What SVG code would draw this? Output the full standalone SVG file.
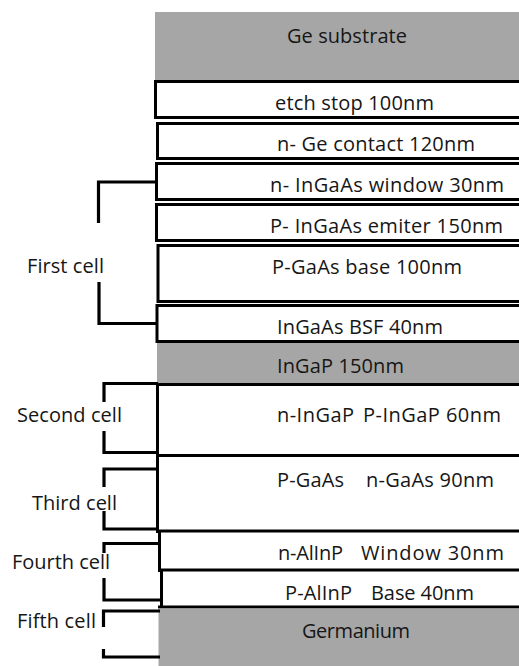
<svg xmlns="http://www.w3.org/2000/svg" width="519" height="666" viewBox="0 0 519 666">
<style>
  .t { font-family: "Open Sans", "DejaVu Sans", sans-serif; font-size: 20px; fill: #161616; }
  .gray { fill: #a6a6a6; }
  .box { fill: #ffffff; stroke: #000000; stroke-width: 3; }
  .ln { stroke: #000000; fill: none; stroke-width: 3; }
  .br { stroke: #000000; fill: none; stroke-width: 3.2; stroke-linecap: butt; }
</style>
<rect width="519" height="666" fill="#ffffff"/>

<g id="ge-substrate">
  <rect class="gray" x="155" y="12" width="370" height="68"/>
  <text class="t" x="287" y="42.5" textLength="120">Ge substrate</text>
</g>
<g id="etch-stop">
  <rect class="box" x="155.5" y="81.5" width="370" height="36"/>
  <text class="t" x="275" y="110" textLength="159">etch stop 100nm</text>
</g>
<g id="n-ge-contact">
  <rect class="box" x="157.5" y="123.5" width="370" height="35"/>
  <text class="t" x="277" y="151" textLength="198">n- Ge contact 120nm</text>
</g>
<g id="n-ingaas-window">
  <rect class="box" x="156.5" y="163.5" width="370" height="36"/>
  <text class="t" x="270" y="191.5" textLength="234">n- InGaAs window 30nm</text>
</g>
<g id="p-ingaas-emiter">
  <rect class="box" x="156.5" y="204.5" width="370" height="36"/>
  <text class="t" x="270" y="232.5" textLength="233">P- InGaAs emiter 150nm</text>
</g>
<g id="p-gaas-base">
  <rect class="box" x="158" y="245.5" width="370" height="56"/>
  <text class="t" x="272" y="273.5" textLength="190">P-GaAs base 100nm</text>
</g>
<g id="ingaas-bsf">
  <rect class="box" x="157" y="305.5" width="370" height="36"/>
  <text class="t" x="277" y="334" textLength="166">InGaAs BSF 40nm</text>
</g>
<g id="ingap">
  <rect class="gray" x="157" y="343" width="370" height="41"/>
  <text class="t" x="277" y="373" textLength="127">InGaP 150nm</text>
</g>
<g id="second-cell-layer">
  <line class="ln" x1="156" y1="384.5" x2="525" y2="384.5"/>
  <line class="ln" x1="157.5" y1="383" x2="157.5" y2="533" stroke-width="3.5"/>
  <line class="ln" x1="156" y1="455.5" x2="525" y2="455.5" stroke-width="5"/>
  <text class="t" x="277" y="421.5"><tspan textLength="77">n-InGaP</tspan><tspan x="363" textLength="138">P-InGaP 60nm</tspan></text>
</g>
<g id="third-cell-layer">
  <line class="ln" x1="156" y1="531" x2="525" y2="531" stroke-width="5"/>
  <text class="t" x="277" y="487"><tspan textLength="67">P-GaAs</tspan><tspan x="366" textLength="128">n-GaAs 90nm</tspan></text>
</g>
<g id="n-alinp-window">
  <line class="ln" x1="159.5" y1="531" x2="159.5" y2="572"/>
  <line class="ln" x1="158" y1="570" x2="525" y2="570" stroke-width="5"/>
  <text class="t" x="278" y="560"><tspan textLength="65">n-AlInP</tspan><tspan x="361" textLength="143">Window 30nm</tspan></text>
</g>
<g id="p-alinp-base">
  <line class="ln" x1="161.5" y1="570" x2="161.5" y2="608"/>
  <line class="ln" x1="158" y1="607" x2="525" y2="607"/>
  <text class="t" x="285" y="600"><tspan textLength="67">P-AlInP</tspan><tspan x="371" textLength="103">Base 40nm</tspan></text>
</g>
<g id="germanium">
  <rect class="gray" x="158.5" y="608.5" width="370" height="60"/>
  <text class="t" x="302" y="638" textLength="108">Germanium</text>
</g>

<g id="label-first-cell"><text class="t" x="27" y="273" textLength="77">First cell</text></g>
<g id="label-second-cell"><text class="t" x="17" y="421.5" textLength="105">Second cell</text></g>
<g id="label-third-cell"><text class="t" x="32" y="510" textLength="85">Third cell</text></g>
<g id="label-fourth-cell"><text class="t" x="12" y="569" textLength="98">Fourth cell</text></g>
<g id="label-fifth-cell"><text class="t" x="17" y="628" textLength="79">Fifth cell</text></g>

<g id="connectors">
  <path class="br" d="M155,182 H98.5 V223"/>
  <path class="br" d="M99,282 V323.5 H157"/>
  <path class="br" d="M158,383.5 H104 V402"/>
  <path class="br" d="M104,431 V452.5 H158"/>
  <path class="br" d="M158,469 H104 V487"/>
  <path class="br" d="M104,511 V529 H158"/>
  <path class="br" d="M158,543.5 H104 V553"/>
  <path class="br" d="M104,578 V600 H160"/>
  <path class="br" d="M160,611 H103.5 V627"/>
  <path class="br" d="M103.5,649 V657 H160"/>
</g>
</svg>
